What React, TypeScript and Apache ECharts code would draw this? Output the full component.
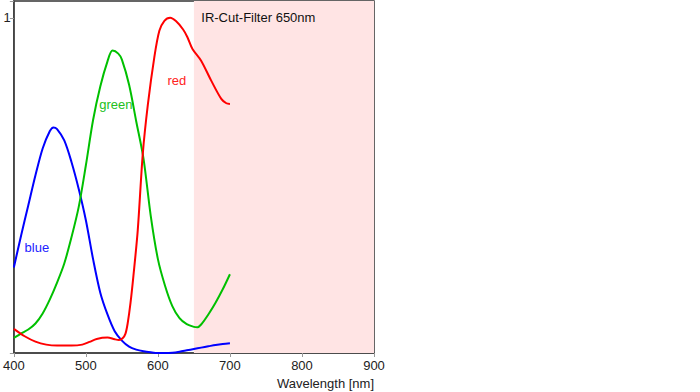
import React, { useEffect, useRef } from "react";
import * as echarts from "echarts";

const xTicks = [400, 500, 600, 700, 800, 900];

const blueNm = [400, 410, 420, 430, 440, 450, 455, 460, 470, 480, 490, 500, 510, 520, 530, 540, 550, 560, 570, 580, 590, 600, 610, 620, 630, 640, 650, 660, 670, 680, 690, 700];
const blueVal = [0.255, 0.35, 0.44, 0.53, 0.61, 0.662, 0.673, 0.668, 0.634, 0.57, 0.49, 0.396, 0.28, 0.18, 0.115, 0.065, 0.037, 0.019, 0.01, 0.005, 0.002, 0.0, 0.0, 0.001, 0.004, 0.008, 0.012, 0.016, 0.02, 0.024, 0.027, 0.029];

const greenNm = [400, 410, 420, 430, 440, 450, 460, 470, 480, 490, 500, 510, 520, 530, 537, 545, 550, 560, 570, 580, 590, 600, 610, 620, 630, 640, 650, 655, 660, 670, 680, 690, 700];
const greenVal = [0.045, 0.058, 0.07, 0.088, 0.118, 0.16, 0.21, 0.267, 0.345, 0.435, 0.56, 0.695, 0.795, 0.87, 0.902, 0.893, 0.875, 0.8, 0.69, 0.58, 0.41, 0.28, 0.2, 0.14, 0.104, 0.086, 0.078, 0.077, 0.085, 0.115, 0.15, 0.19, 0.235];

const redNm = [400, 415, 430, 445, 460, 480, 495, 505, 515, 530, 540, 546, 551, 555, 558, 562, 566, 572, 579, 586, 595, 602, 609, 617, 625, 635, 641, 648, 660, 674, 688, 695, 700];
const redVal = [0.072, 0.05, 0.034, 0.025, 0.022, 0.022, 0.025, 0.033, 0.042, 0.046, 0.041, 0.039, 0.044, 0.058, 0.088, 0.15, 0.23, 0.366, 0.594, 0.74, 0.882, 0.961, 0.991, 1.0, 0.99, 0.965, 0.942, 0.907, 0.872, 0.8125, 0.758, 0.745, 0.743];

const filterStart = 650;
const filterEnd = 900;
const filterText = "IR-Cut-Filter 650nm";

const FONT = "'Liberation Sans', Arial, Helvetica, sans-serif";

function pairs(xs: number[], ys: number[]) {
  return xs.map((x, i) => [x, ys[i]]);
}

function labelPoint(text: string, nm: number, v: number, color: string, align: "center" | "left" = "center") {
  return {
    coord: [nm, v],
    symbol: "rect",
    symbolSize: 1,
    itemStyle: { color: "rgba(0,0,0,0)" },
    label: {
      show: true,
      formatter: text,
      position: align === "left" ? "right" : "inside",
      distance: 0,
      color,
      fontSize: 13,
      fontFamily: FONT,
    },
  };
}

export default function App() {
  const ref = useRef<HTMLDivElement>(null);
  useEffect(() => {
    if (!ref.current) return;
    const chart = echarts.init(ref.current, undefined, { renderer: "svg" });
    const lineBase = { type: "line", showSymbol: false, symbol: "none", smooth: 0.3, lineStyle: { width: 2 } };
    chart.setOption({
      animation: false,
      backgroundColor: "#ffffff",
      grid: { left: 13, right: 326, top: 1, bottom: 39, show: true, borderColor: "#333", borderWidth: 1.5, backgroundColor: "transparent" },
      xAxis: {
        type: "value",
        min: 400,
        max: 900,
        interval: 100,
        axisLine: { show: true, lineStyle: { color: "#444", width: 1.5 } },
        axisTick: { show: true, length: 4, lineStyle: { color: "#999" } },
        axisLabel: { color: "#222", fontSize: 13, fontFamily: FONT, margin: 6, formatter: (v: number) => (xTicks.includes(v) ? String(v) : "") },
        splitLine: { show: false },
      },
      yAxis: {
        type: "value",
        min: 0,
        max: 1.05,
        interval: 1,
        axisLine: { show: true, lineStyle: { color: "#444", width: 1.5 } },
        axisTick: { show: true, length: 4, lineStyle: { color: "#999" } },
        axisLabel: { color: "#222", fontSize: 13, fontFamily: FONT, margin: 3, formatter: (v: number) => (v === 1 ? "1" : "") },
        splitLine: { show: false },
      },
      graphic: [
        {
          type: "text",
          right: 326,
          top: 377,
          style: { text: "Wavelength [nm]", fill: "#222", font: `13px ${FONT}`, textAlign: "right" },
        },
      ],
      series: [
        {
          type: "line",
          data: [],
          markArea: {
            silent: true,
            itemStyle: { color: "#ffe4e4" },
            data: [[{ xAxis: filterStart }, { xAxis: filterEnd }]],
          },
          markPoint: {
            silent: true,
            data: [labelPoint(filterText, 659.5, 1.0, "#111", "left")],
          },
        },
        {
          ...lineBase,
          name: "blue",
          data: pairs(blueNm, blueVal),
          lineStyle: { width: 2, color: "#0000ff" },
          itemStyle: { color: "#0000ff" },
          markPoint: { silent: true, data: [labelPoint("blue", 432, 0.315, "#2222ff")] },
        },
        {
          ...lineBase,
          name: "green",
          data: pairs(greenNm, greenVal),
          lineStyle: { width: 2, color: "#00c000" },
          itemStyle: { color: "#00c000" },
          markPoint: { silent: true, data: [labelPoint("green", 541.7, 0.741, "#22c022")] },
        },
        {
          ...lineBase,
          name: "red",
          data: pairs(redNm, redVal),
          lineStyle: { width: 2, color: "#ff0000" },
          itemStyle: { color: "#ff0000" },
          markPoint: { silent: true, data: [labelPoint("red", 626.4, 0.8125, "#ff2222")] },
        },
      ],
    });
    return () => chart.dispose();
  }, []);
  return <div ref={ref} style={{ position: "fixed", left: 0, top: 0, width: 700, height: 392 }} />;
}
